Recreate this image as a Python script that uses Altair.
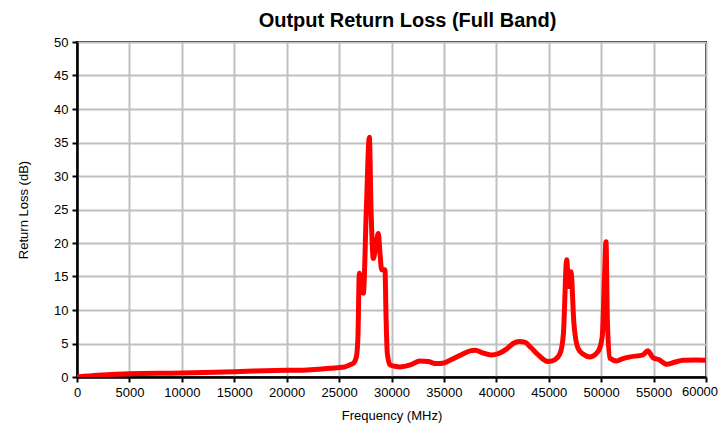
import altair as alt
import pandas as pd

freq = [0, 2000, 5000, 10000, 15000, 20000, 22000, 24100, 25500, 26000, 26400, 26650,
        26800, 26930, 27100, 27313, 27600, 27885, 28050, 28267, 28500, 28744, 28900,
        29064, 29380, 29480, 29600, 29857, 30300, 30810, 31800, 32718, 33500, 34310,
        35000, 35580, 36500, 37500, 38000, 38700, 39500, 40200, 41000, 41600, 42200,
        42700, 43300, 44000, 44928, 45600, 46100, 46400, 46710, 46900, 47120, 47400,
        47790, 48300, 48935, 49700, 50100, 50300, 50460, 50600, 50840, 51480, 52000,
        52750, 53990, 54440, 54940, 55500, 56250, 57000, 57810, 59000, 60000]
rl = [0.0, 0.25, 0.5, 0.6, 0.8, 1.0, 1.05, 1.3, 1.5, 1.8, 2.1, 3.0,
      6.0, 15.5, 13.5, 12.5, 25.0, 35.8, 25.0, 17.7, 19.5, 21.4, 18.5,
      16.0, 16.0, 9.0, 3.5, 1.8, 1.6, 1.5, 1.8, 2.4, 2.3, 2.0,
      2.1, 2.5, 3.2, 3.9, 4.0, 3.6, 3.3, 3.5, 4.2, 5.0, 5.3,
      5.2, 4.4, 3.3, 2.3, 2.6, 3.6, 6.5, 17.5, 13.5, 15.7, 8.0,
      4.3, 3.4, 3.0, 3.8, 6.0, 14.0, 20.2, 8.0, 2.8, 2.4, 2.7,
      3.0, 3.3, 3.9, 2.9, 2.6, 1.9, 2.2, 2.5, 2.55, 2.5]

x_ticks = list(range(0, 60001, 5000))
y_ticks = list(range(0, 51, 5))

df = pd.DataFrame({"f": freq, "rl": rl})
last_tick = pd.DataFrame({"f": [x_ticks[-1]], "lab": [str(x_ticks[-1])]})

FONT = "Liberation Sans"
H = 335

xscale = alt.Scale(domain=[0, 60000], nice=False, zero=False)

line = alt.Chart(df).mark_line(color="#ff0000", strokeWidth=5, clip=True,
                               interpolate="monotone", strokeCap="round",
                               strokeJoin="round").encode(
    x=alt.X("f:Q", scale=xscale,
            axis=alt.Axis(values=x_ticks, title="Frequency (MHz)", format="d",
                          labelFlush=False, labelOverlap=False, labelPadding=4,
                          labelExpr="datum.value == 60000 ? '' : datum.label",
                          titlePadding=10)),
    y=alt.Y("rl:Q", scale=alt.Scale(domain=[0, 50], nice=False),
            axis=alt.Axis(values=y_ticks, title="Return Loss (dB)", labelPadding=4,
                          titlePadding=23)),
)

end_label = alt.Chart(last_tick).mark_text(
    font=FONT, fontSize=13, color="#000000", align="center", baseline="top",
    dx=-6, clip=False
).encode(
    x=alt.X("f:Q", scale=xscale),
    y=alt.value(H + 9),
    text="lab:N",
)

chart = alt.layer(line, end_label).properties(
    width=629, height=H,
    autosize=alt.AutoSizeParams(type="none"),
    padding={"left": 69, "top": 34, "right": 13, "bottom": 48},
    title=alt.TitleParams("Output Return Loss (Full Band)", font=FONT, fontSize=20,
                          fontWeight="bold", color="#000000", anchor="middle",
                          dx=16, offset=5),
).configure_view(
    stroke="#000000", strokeWidth=2
).configure_axis(
    domainColor="#000000", domainWidth=2.5, tickColor="#000000", tickWidth=2,
    tickSize=5, gridColor="#c0c0c0", gridWidth=2, labelFont=FONT, labelFontSize=13,
    labelColor="#000000", titleFont=FONT, titleFontSize=13, titleFontWeight="normal",
    titleColor="#000000"
)

chart.save("out.html", embed_options={"renderer": "svg", "actions": False})
